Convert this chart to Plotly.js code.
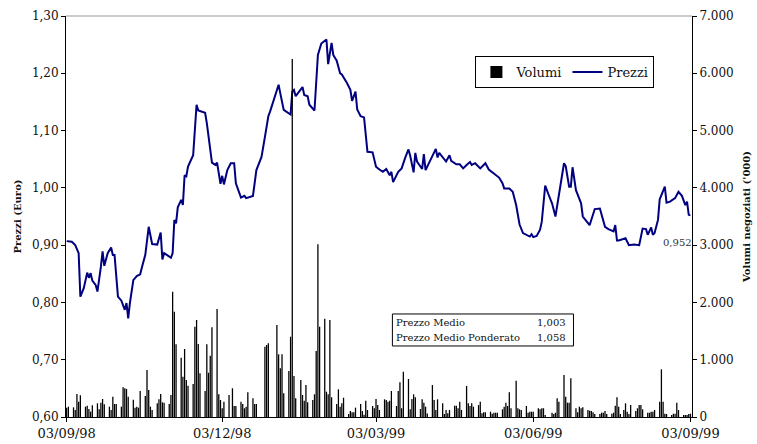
<!DOCTYPE html>
<html><head><meta charset="utf-8">
<script src="https://cdn.plot.ly/plotly-3.0.1.min.js"></script>
<style>html,body{margin:0;padding:0;background:#fff}#chart{width:757px;height:444px}</style>
</head><body><div id="chart"></div>
<script>
// Days after 03/09/98 (trading dates) and prices (Euro)
const priceDay = [0,3,5,7,8,10,12,13,14,15,17,18,20,21,22,24,26,27,28,30,32,34,35,36,37,39,41,43,44,46,48,50,53,55,56,57,59,61,62,63,64,65,67,68,69,70,71,74,76,77,81,82,85,87,88,90,91,92,94,96,98,99,102,104,105,109,111,114,116,118,119,124,125,127,131,132,133,134,138,139,141,142,145,147,149,152,153,155,156,158,160,161,164,166,167,169,170,172,174,176,179,181,183,185,187,189,190,191,194,196,198,200,201,203,204,205,208,209,210,213,216,217,218,222,224,225,228,230,232,234,236,237,239,242,245,247,250,253,255,256,259,261,263,265,267,269,271,272,273,275,277,278,280,282,284,286,289,291,292,294,295,296,298,301,302,306,309,312,315,317,320,321,322,323,327,329,332,335,337,339,340,342,343,344,346,347,350,351,353,356,358,360,362,363,364,365];
const price = [0.907,0.906,0.900,0.886,0.810,0.825,0.852,0.843,0.851,0.838,0.830,0.819,0.862,0.889,0.864,0.886,0.896,0.883,0.883,0.810,0.803,0.787,0.799,0.772,0.799,0.839,0.846,0.849,0.861,0.883,0.932,0.902,0.901,0.922,0.875,0.886,0.882,0.878,0.886,0.944,0.938,0.966,0.979,0.970,1.022,1.020,1.037,1.057,1.145,1.135,1.131,1.113,1.044,1.040,1.044,1.007,1.021,1.006,1.031,1.043,1.043,1.008,0.983,0.986,0.982,0.986,1.031,1.054,1.089,1.125,1.133,1.180,1.165,1.136,1.128,1.168,1.171,1.160,1.176,1.162,1.160,1.145,1.135,1.232,1.252,1.259,1.216,1.253,1.232,1.222,1.200,1.198,1.183,1.171,1.152,1.168,1.137,1.125,1.123,1.063,1.062,1.037,1.032,1.028,1.033,1.022,1.028,1.010,1.028,1.034,1.052,1.067,1.056,1.027,1.061,1.046,1.033,1.059,1.031,1.049,1.068,1.053,1.061,1.046,1.057,1.047,1.041,1.041,1.034,1.040,1.045,1.040,1.043,1.034,1.043,1.032,1.025,1.018,1.008,0.999,0.999,0.993,0.970,0.936,0.921,0.918,0.915,0.919,0.914,0.916,0.927,0.941,1.004,0.988,0.973,0.950,1.002,1.043,1.038,1.002,1.002,1.036,0.996,0.973,0.950,0.935,0.963,0.964,0.932,0.928,0.924,0.935,0.908,0.908,0.912,0.900,0.901,0.900,0.929,0.928,0.918,0.931,0.918,0.921,0.944,0.980,1.002,0.974,0.976,0.982,0.993,0.986,0.970,0.976,0.953,0.952];

// Days after 03/09/98 and traded volumes ('000)
const volDay = [0,1,4,5,6,7,8,11,12,13,14,15,18,19,20,21,22,25,26,27,28,29,32,33,34,35,36,39,40,41,42,43,46,47,48,49,50,53,54,55,56,57,60,61,62,63,64,67,68,69,70,71,74,75,76,77,78,81,82,83,84,85,88,89,90,91,92,95,97,98,99,102,103,104,105,106,109,110,111,116,117,118,123,124,125,126,127,130,131,132,133,134,137,138,139,140,141,144,145,146,147,148,151,152,153,154,155,158,159,160,161,162,165,166,167,168,169,172,173,174,175,176,179,180,181,182,183,186,187,188,189,190,193,194,195,196,197,200,201,202,203,204,207,208,209,210,211,214,215,216,217,220,221,222,223,224,227,228,229,230,231,234,235,236,237,238,241,242,243,244,245,248,249,250,251,252,255,256,257,258,259,260,263,264,265,266,269,270,271,272,273,276,277,278,279,280,284,285,286,287,288,291,292,293,294,295,298,299,300,301,302,305,306,307,308,309,312,313,314,315,316,319,320,321,322,323,324,326,327,328,329,330,333,334,335,336,337,340,341,342,343,344,347,348,349,350,351,354,355,356,357,358,361,362,363,364,365];
const volume = [163,180,169,122,401,267,378,180,197,140,93,204,239,134,250,314,222,180,122,355,227,227,180,518,501,489,355,303,163,180,163,454,367,820,471,180,122,239,309,401,256,250,227,384,2187,1838,1269,1035,703,1187,646,546,576,1576,1693,1274,763,454,1269,773,1070,1565,1885,396,297,152,267,384,501,192,192,267,227,152,180,431,326,227,227,1227,1257,1286,1606,1094,850,1094,413,803,1401,6248,716,326,646,384,285,558,256,297,396,1152,3014,1576,1716,442,396,1693,344,227,483,180,239,337,52,105,82,82,163,227,105,40,285,122,192,152,314,209,122,309,297,267,285,454,192,454,605,152,791,663,134,314,396,344,140,309,250,180,60,558,297,122,309,239,52,122,64,122,197,197,152,267,122,541,239,192,239,180,209,267,64,82,82,93,58,75,75,75,134,180,250,192,431,152,633,152,134,122,192,75,93,93,93,152,134,152,152,35,75,52,75,326,267,733,355,250,250,675,152,82,180,152,169,122,110,105,82,52,52,75,75,105,52,58,75,197,344,180,52,122,239,93,52,209,105,152,209,209,134,75,75,93,93,122,267,833,267,58,52,35,58,58,250,122,35,35,35,52,58];

const tickDates = ['1998-09-03','1998-12-03','1999-03-03','1999-06-03','1999-09-03'];
const tickLabels = ['03/09/98','03/12/98','03/03/99','03/06/99','03/09/99'];
const statLabels = ['Prezzo Medio','Prezzo Medio Ponderato'];
const statValues = [1.003, 1.058];
const lastPrice = 0.952;

const t0 = Date.UTC(1998, 8, 3);
function dayToDate(d){ const s = new Date(t0 + d*864e5).toISOString(); return s.slice(0,10)+' '+s.slice(11,23); }
const fmt = v => v.toFixed(3).replace('.', ',');

const traces = [
  {type:'bar', name:'Volumi', x: volDay.map(dayToDate), y: volume, yaxis:'y2',
   width: 0.75*864e5, marker:{color:'#000', line:{width:0}}, hoverinfo:'skip'},
  {type:'scatter', mode:'lines', name:'Prezzi', x: priceDay.map(dayToDate), y: price,
   line:{color:'#000080', width:2}, hoverinfo:'skip'}
];

const bx0 = 0.5214, bx1 = 0.8107, by0 = 0.1771, by1 = 0.2569;
const rowY = [0.2369, 0.1995];
const annotations = [];
statLabels.forEach((t,i)=>{
  annotations.push({xref:'paper', yref:'paper', x:bx0, xshift:2, y:rowY[i], xanchor:'left', yanchor:'middle', text:t, showarrow:false, font:{size:10, color:'#111'}});
  annotations.push({xref:'paper', yref:'paper', x:bx1, xshift:-5, y:rowY[i], xanchor:'right', yanchor:'middle', text:fmt(statValues[i]), showarrow:false, font:{size:10, color:'#111'}});
});
annotations.push({xref:'paper', yref:'paper', x:1, xshift:2, y:0.4364, xanchor:'right', yanchor:'middle', text:fmt(lastPrice), showarrow:false, font:{size:10, color:'#333'}});

const layout = {
  width:757, height:444, autosize:false,
  margin:{l:66, r:64.5, t:16, b:27, pad:0},
  paper_bgcolor:'#fff', plot_bgcolor:'#fff',
  separators:',.',
  font:{family:'DejaVu Serif', size:12, color:'#111'},
  showlegend:true,
  legend:{x:0.654, y:0.900, xanchor:'left', yanchor:'top', orientation:'h',
          bgcolor:'#fff', bordercolor:'#000', borderwidth:1, font:{size:13, color:'#111'}, traceorder:'normal'},
  xaxis:{type:'date', range:[dayToDate(-0.4), dayToDate(365.9)], tickvals:tickDates, ticktext:tickLabels,
         ticks:'outside', ticklen:4, tickcolor:'#000', showline:true, linecolor:'#000', linewidth:1,
         showgrid:false, zeroline:false, tickfont:{size:13}, fixedrange:true},
  yaxis:{range:[0.6,1.3], tick0:0.6, dtick:0.1, tickformat:'.2f', ticks:'outside', ticklen:4, tickcolor:'#000',
         showline:true, linecolor:'#000', linewidth:1, showgrid:false, zeroline:false, tickfont:{size:12},
         title:{text:'<b>Prezzi (Euro)</b>', font:{size:10}, standoff:8}, automargin:false},
  yaxis2:{overlaying:'y', side:'right', range:[0,7000], tick0:0, dtick:1000, tickformat:',', ticks:'outside', ticklen:4,
          tickcolor:'#000', showline:true, linecolor:'#000', linewidth:1, showgrid:false, zeroline:false, tickfont:{size:12},
          title:{text:"<b>Volumi negoziati ('000)</b>", font:{size:10}, standoff:10}, automargin:false},
  shapes:[
    {type:'line', xref:'paper', yref:'paper', x0:0, x1:1, y0:1, y1:1, line:{color:'#999', width:1}},
    {type:'rect', xref:'paper', yref:'paper', x0:bx0, x1:bx1, y0:by0, y1:by1, line:{color:'#000', width:1}, fillcolor:'rgba(0,0,0,0)'}
  ],
  annotations: annotations
};

Plotly.newPlot('chart', traces, layout, {displayModeBar:false, staticPlot:true});
</script>
</body></html>
